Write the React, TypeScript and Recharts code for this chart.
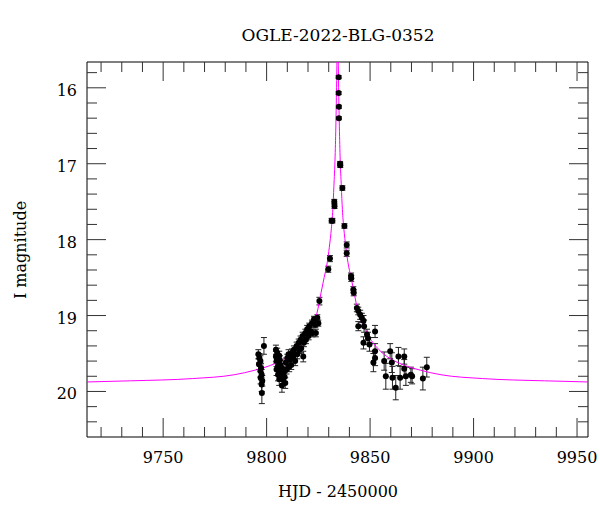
import { ComposedChart, Scatter, Line, XAxis, YAxis, ErrorBar, ReferenceArea } from "recharts"

// observed photometry (HJD - 2450000, I mag, error)
const obsT = [
    9796.0, 9796.5, 9797.0, 9796.3, 9797.3, 9797.0, 9797.6, 9797.1, 9797.9, 9797.6, 9797.7, 9798.7,
    9804.5, 9805.1, 9804.5, 9806.1, 9804.8, 9806.4, 9805.5, 9806.7, 9804.8, 9806.1, 9807.4, 9805.5,
    9806.7, 9808.0, 9806.1, 9807.7, 9808.7, 9807.4, 9809.0, 9809.6, 9809.3, 9810.0, 9810.6, 9811.3,
    9810.9, 9811.9, 9812.2, 9812.9, 9813.2, 9813.8, 9814.5, 9814.8, 9815.5, 9815.8, 9816.4, 9816.7,
    9817.4, 9817.7, 9818.0, 9818.7, 9819.0, 9819.6, 9820.3, 9820.6, 9821.3, 9821.9, 9822.2, 9822.9,
    9823.5, 9823.8, 9824.5, 9825.0, 9825.5,
    9829.8, 9830.6, 9831.4, 9831.8, 9832.7, 9832.8, 9834.8, 9834.8, 9834.9, 9834.9, 9835.5, 9835.6,
    9836.6, 9837.6, 9838.7, 9838.7, 9840.8, 9840.9, 9841.9, 9842.1,
    9843.6, 9844.3, 9845.2, 9846.0, 9846.8, 9844.3, 9847.1, 9848.5, 9849.0, 9852.4, 9846.8, 9849.7,
    9852.4, 9852.4, 9851.6, 9859.7, 9856.8, 9860.5, 9863.7, 9866.5, 9866.5, 9857.6, 9860.8, 9862.4,
    9864.5, 9867.3, 9869.7, 9870.3, 9875.5, 9877.4,
]
const obsMag = [
    19.51, 19.56, 19.6, 19.64, 19.69, 19.73, 19.78, 19.82, 19.86, 19.91, 20.02, 19.4,
    19.45, 19.49, 19.54, 19.53, 19.6, 19.59, 19.66, 19.65, 19.71, 19.73, 19.69, 19.78,
    19.79, 19.75, 19.84, 19.84, 19.81, 19.92, 19.89, 19.71, 19.62, 19.56, 19.51, 19.58,
    19.67, 19.65, 19.49, 19.54, 19.45, 19.6, 19.4, 19.51, 19.36, 19.45, 19.32, 19.43,
    19.27, 19.54, 19.36, 19.23, 19.32, 19.18, 19.27, 19.14, 19.21, 19.1, 19.23, 19.05,
    19.12, 19.23, 19.03, 19.1, 18.81,
    18.39, 18.25, 17.75, 17.75, 17.5, 17.56, 15.86, 16.07, 16.25, 16.4, 17.0, 17.02,
    17.32, 17.82, 18.07, 18.18, 18.48, 18.51, 18.66, 18.7,
    18.9, 18.94, 18.99, 19.03, 19.07, 19.14, 19.14, 19.25, 19.3, 19.21, 19.36, 19.38,
    19.47, 19.56, 19.62, 19.47, 19.6, 19.62, 19.54, 19.54, 19.7, 19.8, 19.82, 19.95,
    19.82, 19.8, 19.78, 19.8, 19.83, 19.68,
]
const obsErr = [
    0.06, 0.06, 0.07, 0.07, 0.06, 0.08, 0.07, 0.08, 0.07, 0.09, 0.14, 0.11,
    0.06, 0.06, 0.07, 0.06, 0.07, 0.06, 0.07, 0.06, 0.08, 0.07, 0.06, 0.08,
    0.07, 0.06, 0.08, 0.07, 0.06, 0.09, 0.07, 0.06, 0.06, 0.05, 0.06, 0.06,
    0.07, 0.06, 0.05, 0.06, 0.05, 0.06, 0.05, 0.06, 0.05, 0.05, 0.05, 0.06,
    0.05, 0.07, 0.05, 0.05, 0.05, 0.05, 0.05, 0.04, 0.05, 0.04, 0.05, 0.04,
    0.04, 0.05, 0.04, 0.04, 0.05,
    0.04, 0.04, 0.03, 0.03, 0.03, 0.03, 0.02, 0.02, 0.02, 0.02, 0.03, 0.03,
    0.03, 0.03, 0.04, 0.04, 0.04, 0.04, 0.04, 0.04,
    0.05, 0.05, 0.06, 0.06, 0.07, 0.06, 0.08, 0.07, 0.08, 0.08, 0.08, 0.09,
    0.1, 0.1, 0.12, 0.1, 0.12, 0.13, 0.12, 0.1, 0.12, 0.17, 0.15, 0.16,
    0.15, 0.12, 0.1, 0.1, 0.15, 0.13,
]

// fitted model curve
const modelT = [
    9713.2, 9734.3, 9764.3, 9784.3, 9794.3, 9804.3, 9809.3, 9814.3, 9819.3, 9821.8, 9824.3, 9826.3,
    9827.8, 9829.3, 9830.3, 9831.3, 9832.0, 9832.5, 9833.1, 9833.5, 9833.8, 9834.0, 9834.3,
    9834.6, 9834.8, 9835.1, 9835.5, 9836.1, 9836.6, 9837.3, 9838.3, 9839.3, 9840.8, 9842.3, 9844.3,
    9846.8, 9849.3, 9854.3, 9859.3, 9864.3, 9874.3, 9884.3, 9904.3, 9934.3, 9955.3,
]
const modelMag = [
    19.875, 19.86, 19.83, 19.78, 19.72, 19.63, 19.56, 19.45, 19.27, 19.13, 18.97, 18.7,
    18.5, 18.3, 18.1, 17.85, 17.6, 17.3, 16.9, 16.45, 16.0, 15.6, 15.0,
    15.6, 16.0, 16.45, 16.9, 17.3, 17.6, 17.85, 18.1, 18.3, 18.5, 18.7, 18.97,
    19.13, 19.27, 19.45, 19.56, 19.63, 19.72, 19.78, 19.83, 19.86, 19.875,
]

const xTicks = [
    9720, 9730, 9740, 9750, 9760, 9770, 9780, 9790, 9800, 9810, 9820, 9830, 9840, 9850,
    9860, 9870, 9880, 9890, 9900, 9910, 9920, 9930, 9940, 9950,
]
const yTicks = [
    15.8, 16, 16.2, 16.4, 16.6, 16.8, 17, 17.2, 17.4, 17.6, 17.8, 18, 18.2, 18.4, 18.6, 18.8,
    19, 19.2, 19.4, 19.6, 19.8, 20, 20.2, 20.4,
]

const X_MIN = 9713.2
const X_MAX = 9955.3
const Y_MIN = 15.66
const Y_MAX = 20.6

const W = 600
const H = 512
const MARGIN = { top: 62, right: 12, bottom: 0, left: 0 }
const PLOT_TOP = MARGIN.top
const PLOT_RIGHT = W - MARGIN.right
const FONT = "DejaVu Serif"

const obsData = obsT.map((t, i) => ({ t, mag: obsMag[i], err: obsErr[i] }))
const modelData = modelT.map((t, i) => ({ t, mag: modelMag[i] }))

function XTick(props: any) {
    const { x, y, payload } = props
    const major = payload.value % 50 === 0
    const len = major ? 19 : 10
    return (
        <g>
            <line x1={x} y1={y} x2={x} y2={y - len} stroke="#333" />
            <line x1={x} y1={PLOT_TOP} x2={x} y2={PLOT_TOP + len} stroke="#333" />
            {major && (
                <text x={x} y={y + 26} textAnchor="middle" fontSize={16} fontFamily={FONT} fill="#000">
                    {payload.value}
                </text>
            )}
        </g>
    )
}

function YTick(props: any) {
    const { x, y, payload } = props
    const major = Number.isInteger(payload.value)
    const len = major ? 19 : 10
    return (
        <g>
            <line x1={x} y1={y} x2={x + len} y2={y} stroke="#333" />
            <line x1={PLOT_RIGHT} y1={y} x2={PLOT_RIGHT - len} y2={y} stroke="#333" />
            {major && (
                <text x={x - 10} y={y + 8} textAnchor="end" fontSize={16} fontFamily={FONT} fill="#000">
                    {payload.value}
                </text>
            )}
        </g>
    )
}

const Dot = (p: any) => <circle cx={p.cx} cy={p.cy} r={3} fill="#000" />

export default function App() {
    return (
        <div style={{ position: "absolute", left: 0, top: 0, width: W, height: H, background: "#fff" }}>
            <ComposedChart width={W} height={H} margin={MARGIN}>
                <XAxis
                    dataKey="t"
                    type="number"
                    domain={[X_MIN, X_MAX]}
                    allowDataOverflow
                    ticks={xTicks}
                    interval={0}
                    tick={<XTick />}
                    tickLine={false}
                    axisLine={false}
                    tickSize={0}
                    tickMargin={0}
                    height={75}
                />
                <YAxis
                    type="number"
                    reversed
                    domain={[Y_MIN, Y_MAX]}
                    allowDataOverflow
                    ticks={yTicks}
                    interval={0}
                    tick={<YTick />}
                    tickLine={false}
                    axisLine={false}
                    tickSize={0}
                    tickMargin={0}
                    width={87}
                />
                <ReferenceArea
                    x1={X_MIN}
                    x2={X_MAX}
                    y1={Y_MIN}
                    y2={Y_MAX}
                    fill="none"
                    stroke="#000"
                    strokeWidth={1}
                    ifOverflow="visible"
                />
                <Scatter data={obsData} dataKey="mag" shape={Dot} isAnimationActive={false}>
                    <ErrorBar dataKey="err" direction="y" width={3} stroke="#222" strokeWidth={1} />
                </Scatter>
                <Line
                    data={modelData}
                    dataKey="mag"
                    type="monotone"
                    stroke="#ff00ff"
                    strokeWidth={1}
                    dot={false}
                    activeDot={false}
                    isAnimationActive={false}
                />
            </ComposedChart>
            <svg
                width={W}
                height={H}
                style={{ position: "absolute", left: 0, top: 0, pointerEvents: "none" }}
            >
                <text x={338} y={41} textAnchor="middle" fontSize={17} fontFamily={FONT} fill="#000">
                    OGLE-2022-BLG-0352
                </text>
                <text x={338} y={497} textAnchor="middle" fontSize={16} fontFamily={FONT} fill="#000">
                    HJD - 2450000
                </text>
                <text
                    x={26}
                    y={250}
                    textAnchor="middle"
                    fontSize={16}
                    fontFamily={FONT}
                    fill="#000"
                    transform="rotate(-90, 26, 250)"
                >
                    I magnitude
                </text>
            </svg>
        </div>
    )
}
